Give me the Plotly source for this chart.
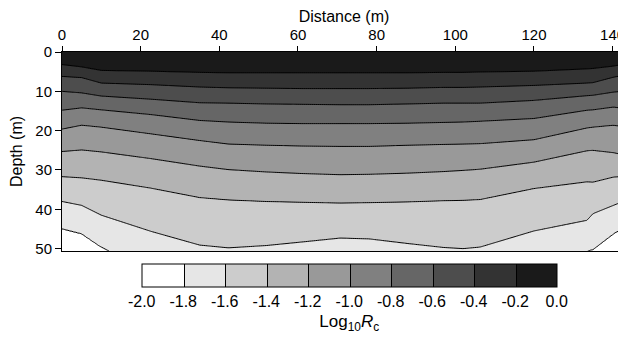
import numpy as np
import plotly.graph_objects as go

# ---- data ----
# x stations (m) where contour depths were read
stations = [0, 5, 10, 22.6, 35, 42.3, 52, 61, 70.7, 78, 88, 97, 102, 106.3, 120, 133.5, 135, 140.2, 143.4]
# contour levels of log10 Rc
levels = [-0.2, -0.4, -0.6, -0.8, -1.0, -1.2, -1.4, -1.6, -1.8]
# depth (m) of each contour level at each station (rows = stations, cols = levels)
level_depths = [
    [3.2, 6.2, 10.0, 14.8, 19.6, 25.3, 31.7, 38.0, 44.9],
    [3.8, 6.5, 10.4, 14.2, 18.6, 24.9, 32.0, 39.0, 46.2],
    [4.7, 7.9, 11.2, 14.7, 19.1, 25.4, 32.6, 41.5, 49.6],
    [4.9, 8.3, 12.0, 15.9, 20.8, 27.1, 34.6, 45.6, 56.0],
    [5.2, 8.9, 12.9, 17.4, 22.5, 29.0, 37.0, 49.1, 60.0],
    [5.3, 9.1, 13.0, 17.8, 23.4, 29.9, 37.6, 49.8, 62.0],
    [5.3, 9.2, 13.2, 18.1, 23.7, 30.5, 38.0, 49.2, 62.0],
    [5.3, 9.3, 13.3, 18.2, 23.9, 30.9, 38.2, 48.3, 61.0],
    [5.3, 9.3, 13.4, 18.2, 24.0, 31.2, 38.4, 47.3, 60.0],
    [5.3, 9.3, 13.4, 18.2, 24.0, 31.1, 38.3, 47.5, 60.0],
    [5.3, 9.2, 13.2, 18.1, 23.7, 30.8, 38.1, 48.7, 62.0],
    [5.2, 9.0, 13.0, 17.9, 23.5, 30.4, 37.8, 49.7, 62.0],
    [5.2, 9.0, 13.0, 17.8, 23.4, 30.1, 37.7, 50.0, 62.0],
    [5.1, 8.9, 13.0, 17.6, 23.3, 29.8, 37.5, 49.6, 62.0],
    [4.9, 8.5, 12.3, 16.9, 22.3, 28.0, 34.7, 45.5, 56.0],
    [4.3, 7.9, 11.1, 14.8, 19.3, 25.1, 33.0, 42.8, 50.6],
    [4.2, 7.8, 11.0, 14.7, 19.1, 25.0, 33.1, 41.1, 50.2],
    [3.6, 6.4, 10.2, 14.0, 18.6, 25.6, 31.8, 39.0, 46.2],
    [3.0, 5.8, 9.9, 14.4, 19.1, 26.3, 31.6, 37.7, 44.5],
]
surface_value = -0.03
bottom_value = -1.97
bar_ticks = [-2.0, -1.8, -1.6, -1.4, -1.2, -1.0, -0.8, -0.6, -0.4, -0.2, 0.0]
grays = ["#ffffff", "#e6e6e6", "#cccccc", "#b3b3b3", "#999999",
         "#808080", "#666666", "#4d4d4d", "#333333", "#1a1a1a"]

# ---- build grid from the contour-depth table ----
xs = np.linspace(0, 143.4, 288)
ds = np.linspace(0, 50.6, 203)
ld = np.array(level_depths)
depth_at_x = np.array([np.interp(xs, stations, ld[:, k]) for k in range(len(levels))])
Z = np.empty((len(ds), len(xs)))
for j in range(len(xs)):
    xp = np.concatenate([[0.0], depth_at_x[:, j], [75.0]])
    fp = np.concatenate([[surface_value], levels, [bottom_value]])
    Z[:, j] = np.interp(ds, xp, fp)

n = len(grays)
cs = []
for i, c in enumerate(grays):
    cs.append([i / n, c])
    cs.append([(i + 1) / n, c])

# page body has an 8px margin, so the figure is sized to fit the window
W, H = 618, 330
L, T, B, R = 54, 44, 87, 0
pw = W - L - R
ph = H - T - B

fig = go.Figure(go.Contour(
    x=xs, y=ds, z=Z,
    zmin=-2, zmax=0,
    autocontour=False,
    contours=dict(start=-1.8, end=-0.2, size=0.2, coloring="fill"),
    line=dict(color="black", width=1),
    colorscale=cs,
    colorbar=dict(
        orientation="h",
        x=(133.7 - L) / pw, xanchor="left",
        xpad=0, ypad=0,
        y=-12.6 / ph, yanchor="top",
        len=415, lenmode="pixels",
        thickness=23, thicknessmode="pixels",
        outlinecolor="black", outlinewidth=1,
        tickvals=bar_ticks,
        ticktext=[f"{v:.1f}" for v in bar_ticks],
        ticks="",
        tickfont=dict(size=16, color="black"),
        title=dict(text="Log<sub>10</sub><i>R</i><sub>c</sub>", side="bottom",
                   font=dict(size=17, color="black")),
    ),
    hoverinfo="skip",
))

fig.update_layout(
    width=W, height=H,
    margin=dict(l=L, r=R, t=T, b=B),
    paper_bgcolor="white", plot_bgcolor="white",
    font=dict(family="Liberation Sans, Arial, sans-serif", size=15, color="black"),
    showlegend=False,
)
fig.update_xaxes(
    side="top", range=[0, 143.4], tickvals=[0, 20, 40, 60, 80, 100, 120, 140],
    showline=True, linecolor="black", linewidth=1, mirror=True,
    ticks="outside", ticklen=5, tickcolor="black", showgrid=False, zeroline=False,
    tickfont=dict(size=15),
    title=dict(text="Distance (m)", standoff=10, font=dict(size=16)), automargin=False,
)
fig.update_yaxes(
    range=[50.6, 0], tickvals=[0, 10, 20, 30, 40, 50],
    showline=True, linecolor="black", linewidth=1,
    ticks="outside", ticklen=6, tickcolor="black", showgrid=False, zeroline=False,
    tickfont=dict(size=15),
    title=dict(text="Depth (m)", standoff=11, font=dict(size=16)), automargin=False,
)
fig.write_html("out.html")
